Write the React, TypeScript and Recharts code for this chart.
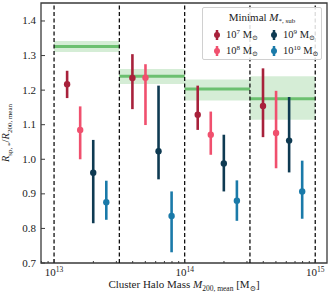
import React from 'react';
import {
  ComposedChart, Scatter, ErrorBar, XAxis, YAxis, ReferenceArea, ReferenceLine,
} from 'recharts';

// log10 halo-mass bin edges (dashed lines)
const binEdges = [13, 13.5, 14, 14.5, 15];

// green band per bin: median and spread
const bandMid = [1.326, 1.24, 1.203, 1.175];
const bandLow = [1.31, 1.218, 1.17, 1.114];
const bandHigh = [1.342, 1.261, 1.231, 1.24];

// series, each with 4 points (one per bin)
const seriesNames = ['10^7', '10^8', '10^9', '10^10'];
const seriesColors = ['#a8213b', '#f0506e', '#0e3a52', '#1a7aa9'];

const logMass = [
  [13.1, 13.6, 14.1, 14.6],
  [13.2, 13.7, 14.2, 14.7],
  [13.3, 13.8, 14.3, 14.8],
  [13.4, 13.9, 14.4, 14.9],
];
const ratioMid = [
  [1.217, 1.235, 1.129, 1.154],
  [1.085, 1.236, 1.071, 1.076],
  [0.961, 1.023, 0.988, 1.054],
  [0.876, 0.836, 0.88, 0.907],
];
const ratioLow = [
  [1.177, 1.145, 1.085, 1.064],
  [1.0, 1.099, 1.013, 0.974],
  [0.815, 0.942, 0.907, 0.962],
  [0.825, 0.731, 0.822, 0.828],
];
const ratioHigh = [
  [1.256, 1.304, 1.213, 1.263],
  [1.153, 1.275, 1.138, 1.198],
  [1.056, 1.213, 1.071, 1.18],
  [0.938, 0.907, 0.939, 0.996],
];

const yTicks = [0.7, 0.8, 0.9, 1.0, 1.1, 1.2, 1.3, 1.4];
const majorX = [13, 14, 15];

const xMin = Math.pow(10, 12.9);
const xMax = Math.pow(10, 15.09);
const yMin = 0.7;
const yMax = 1.452;

const xTicks: number[] = [];
[1e12, 1e13, 1e14, 1e15].forEach((d) => {
  for (let k = 1; k < 10; k++) {
    const v = d * k;
    if (v >= xMin && v <= xMax) xTicks.push(v);
  }
});

const font = '"Liberation Serif", "DejaVu Serif", serif';
const ink = '#222';
const spine = '#3a3a3a';

const seriesData = seriesNames.map((_, s) =>
  logMass[s].map((lm, i) => ({
    x: Math.pow(10, lm),
    y: ratioMid[s][i],
    err: [ratioMid[s][i] - ratioLow[s][i], ratioHigh[s][i] - ratioMid[s][i]],
  }))
);

const XTick = (props: any) => {
  const { x, y, payload } = props;
  const e = Math.log10(payload.value);
  const major = majorX.some((m) => Math.abs(m - e) < 1e-6);
  return (
    <g>
      <line x1={x} x2={x} y1={y} y2={y - (major ? 4 : 2)} stroke={spine} strokeWidth={1} />
      {major && (
        <text x={x} y={y + 13} textAnchor="middle" fontFamily={font} fontSize={11} fill={ink}>
          <tspan>10</tspan>
          <tspan dy={-4} fontSize={7.5}>{Math.round(e)}</tspan>
        </text>
      )}
    </g>
  );
};

const YTick = (props: any) => {
  const { x, y, payload } = props;
  return (
    <g>
      <line x1={x} x2={x + 4} y1={y} y2={y} stroke={spine} strokeWidth={1} />
      <text x={x - 5} y={y + 3.5} textAnchor="end" fontFamily={font} fontSize={11} fill={ink}>
        {payload.value.toFixed(1)}
      </text>
    </g>
  );
};

const XLabel = (props: any) => {
  const { viewBox } = props;
  const cx = viewBox.x + viewBox.width / 2;
  return (
    <text x={cx} y={viewBox.y + 25} textAnchor="middle" fontFamily={font} fontSize={11} fill={ink}>
      <tspan>Cluster Halo Mass </tspan>
      <tspan fontStyle="italic">M</tspan>
      <tspan dy={2.5} fontSize={7.5}>200, mean</tspan>
      <tspan dy={-2.5}> [M</tspan>
      <tspan dy={2.5} fontSize={7.5}>⊙</tspan>
      <tspan dy={-2.5}>]</tspan>
    </text>
  );
};

const YLabel = (props: any) => {
  const { viewBox } = props;
  const cy = viewBox.y + viewBox.height / 2;
  const cx = 9;
  return (
    <text
      x={cx}
      y={cy}
      transform={`rotate(-90, ${cx}, ${cy})`}
      textAnchor="middle"
      fontFamily={font}
      fontSize={10.5}
      fill={ink}
    >
      <tspan fontStyle="italic">R</tspan>
      <tspan dy={2.5} fontSize={7}>sp, *</tspan>
      <tspan dy={-2.5}>/</tspan>
      <tspan fontStyle="italic">R</tspan>
      <tspan dy={2.5} fontSize={7}>200, mean</tspan>
    </text>
  );
};

const LegendBox = () => (
  <div
    style={{
      position: 'absolute',
      top: 7,
      left: 202,
      width: 120,
      height: 53,
      boxSizing: 'border-box',
      border: '1px solid #d0d0d0',
      borderRadius: 2,
      background: 'rgba(255,255,255,0.85)',
      fontFamily: font,
      color: ink,
      fontSize: 10.5,
    }}
  >
    <div style={{ position: 'absolute', top: 3, width: '100%', textAlign: 'center', fontSize: 11 }}>
      Minimal <i>M</i>
      <sub style={{ fontSize: 7, verticalAlign: -2 }}>*, sub</sub>
    </div>
    {seriesNames.map((n, i) => {
      const col = i < 2 ? 0 : 1;
      const row = i % 2;
      return (
        <div
          key={n}
          style={{ position: 'absolute', left: 9, top: 20 + row * 16, display: 'flex', alignItems: 'center', marginLeft: col * 57 }}
        >
          <svg width={10} height={12}>
            <line x1={5} x2={5} y1={1} y2={11} stroke={seriesColors[i]} strokeWidth={2.5} />
            <circle cx={5} cy={6} r={3} fill={seriesColors[i]} />
          </svg>
          <span style={{ marginLeft: 4, whiteSpace: 'nowrap' }}>
            10<sup style={{ fontSize: 7, verticalAlign: 4 }}>{n.split('^')[1]}</sup> M
            <sub style={{ fontSize: 7, verticalAlign: -2 }}>⊙</sub>
          </span>
        </div>
      );
    })}
  </div>
);

export default function App() {
  return (
    <div style={{ position: 'absolute', left: 0, top: 0, width: 332, height: 300, background: '#fff' }}>
      <ComposedChart width={332} height={300} margin={{ top: 3, right: 5, bottom: 0, left: 0 }}>
        <XAxis
          dataKey="x"
          type="number"
          scale="log"
          domain={[xMin, xMax]}
          allowDataOverflow
          ticks={xTicks}
          interval={0}
          tick={<XTick />}
          tickLine={false}
          tickSize={0}
          tickMargin={0}
          axisLine={false}
          height={37}
          label={<XLabel />}
        />
        <YAxis
          dataKey="y"
          type="number"
          domain={[yMin, yMax]}
          allowDataOverflow
          ticks={yTicks}
          interval={0}
          tick={<YTick />}
          tickLine={false}
          tickSize={0}
          tickMargin={0}
          axisLine={false}
          width={41}
          label={<YLabel />}
        />
        {bandMid.map((m, i) => (
          <ReferenceArea
            key={`band-${i}`}
            x1={Math.pow(10, binEdges[i])}
            x2={Math.pow(10, binEdges[i + 1])}
            y1={bandLow[i]}
            y2={bandHigh[i]}
            fill="#74c476"
            fillOpacity={0.3}
            stroke="none"
          />
        ))}
        {bandMid.map((m, i) => (
          <ReferenceLine
            key={`mid-${i}`}
            segment={[
              { x: Math.pow(10, binEdges[i]), y: m },
              { x: Math.pow(10, binEdges[i + 1]), y: m },
            ]}
            stroke="#6cc070"
            strokeWidth={3}
          />
        ))}
        {binEdges.map((e) => (
          <ReferenceLine
            key={`edge-${e}`}
            x={Math.pow(10, e)}
            stroke="#111"
            strokeWidth={1.3}
            strokeDasharray="4 2.5"
          />
        ))}
        {seriesData.map((d, s) => (
          <Scatter
            key={seriesNames[s]}
            data={d}
            fill={seriesColors[s]}
            isAnimationActive={false}
            shape={(p: any) => <circle cx={p.cx} cy={p.cy} r={3.2} fill={seriesColors[s]} />}
          >
            <ErrorBar
              dataKey="err"
              direction="y"
              width={0}
              stroke={seriesColors[s]}
              strokeWidth={2.6}
              isAnimationActive={false}
            />
          </Scatter>
        ))}
        <ReferenceArea
          x1={xMin}
          x2={xMax}
          y1={yMin}
          y2={yMax}
          fill="none"
          stroke={spine}
          strokeWidth={1.3}
        />
      </ComposedChart>
      <LegendBox />
    </div>
  );
}
